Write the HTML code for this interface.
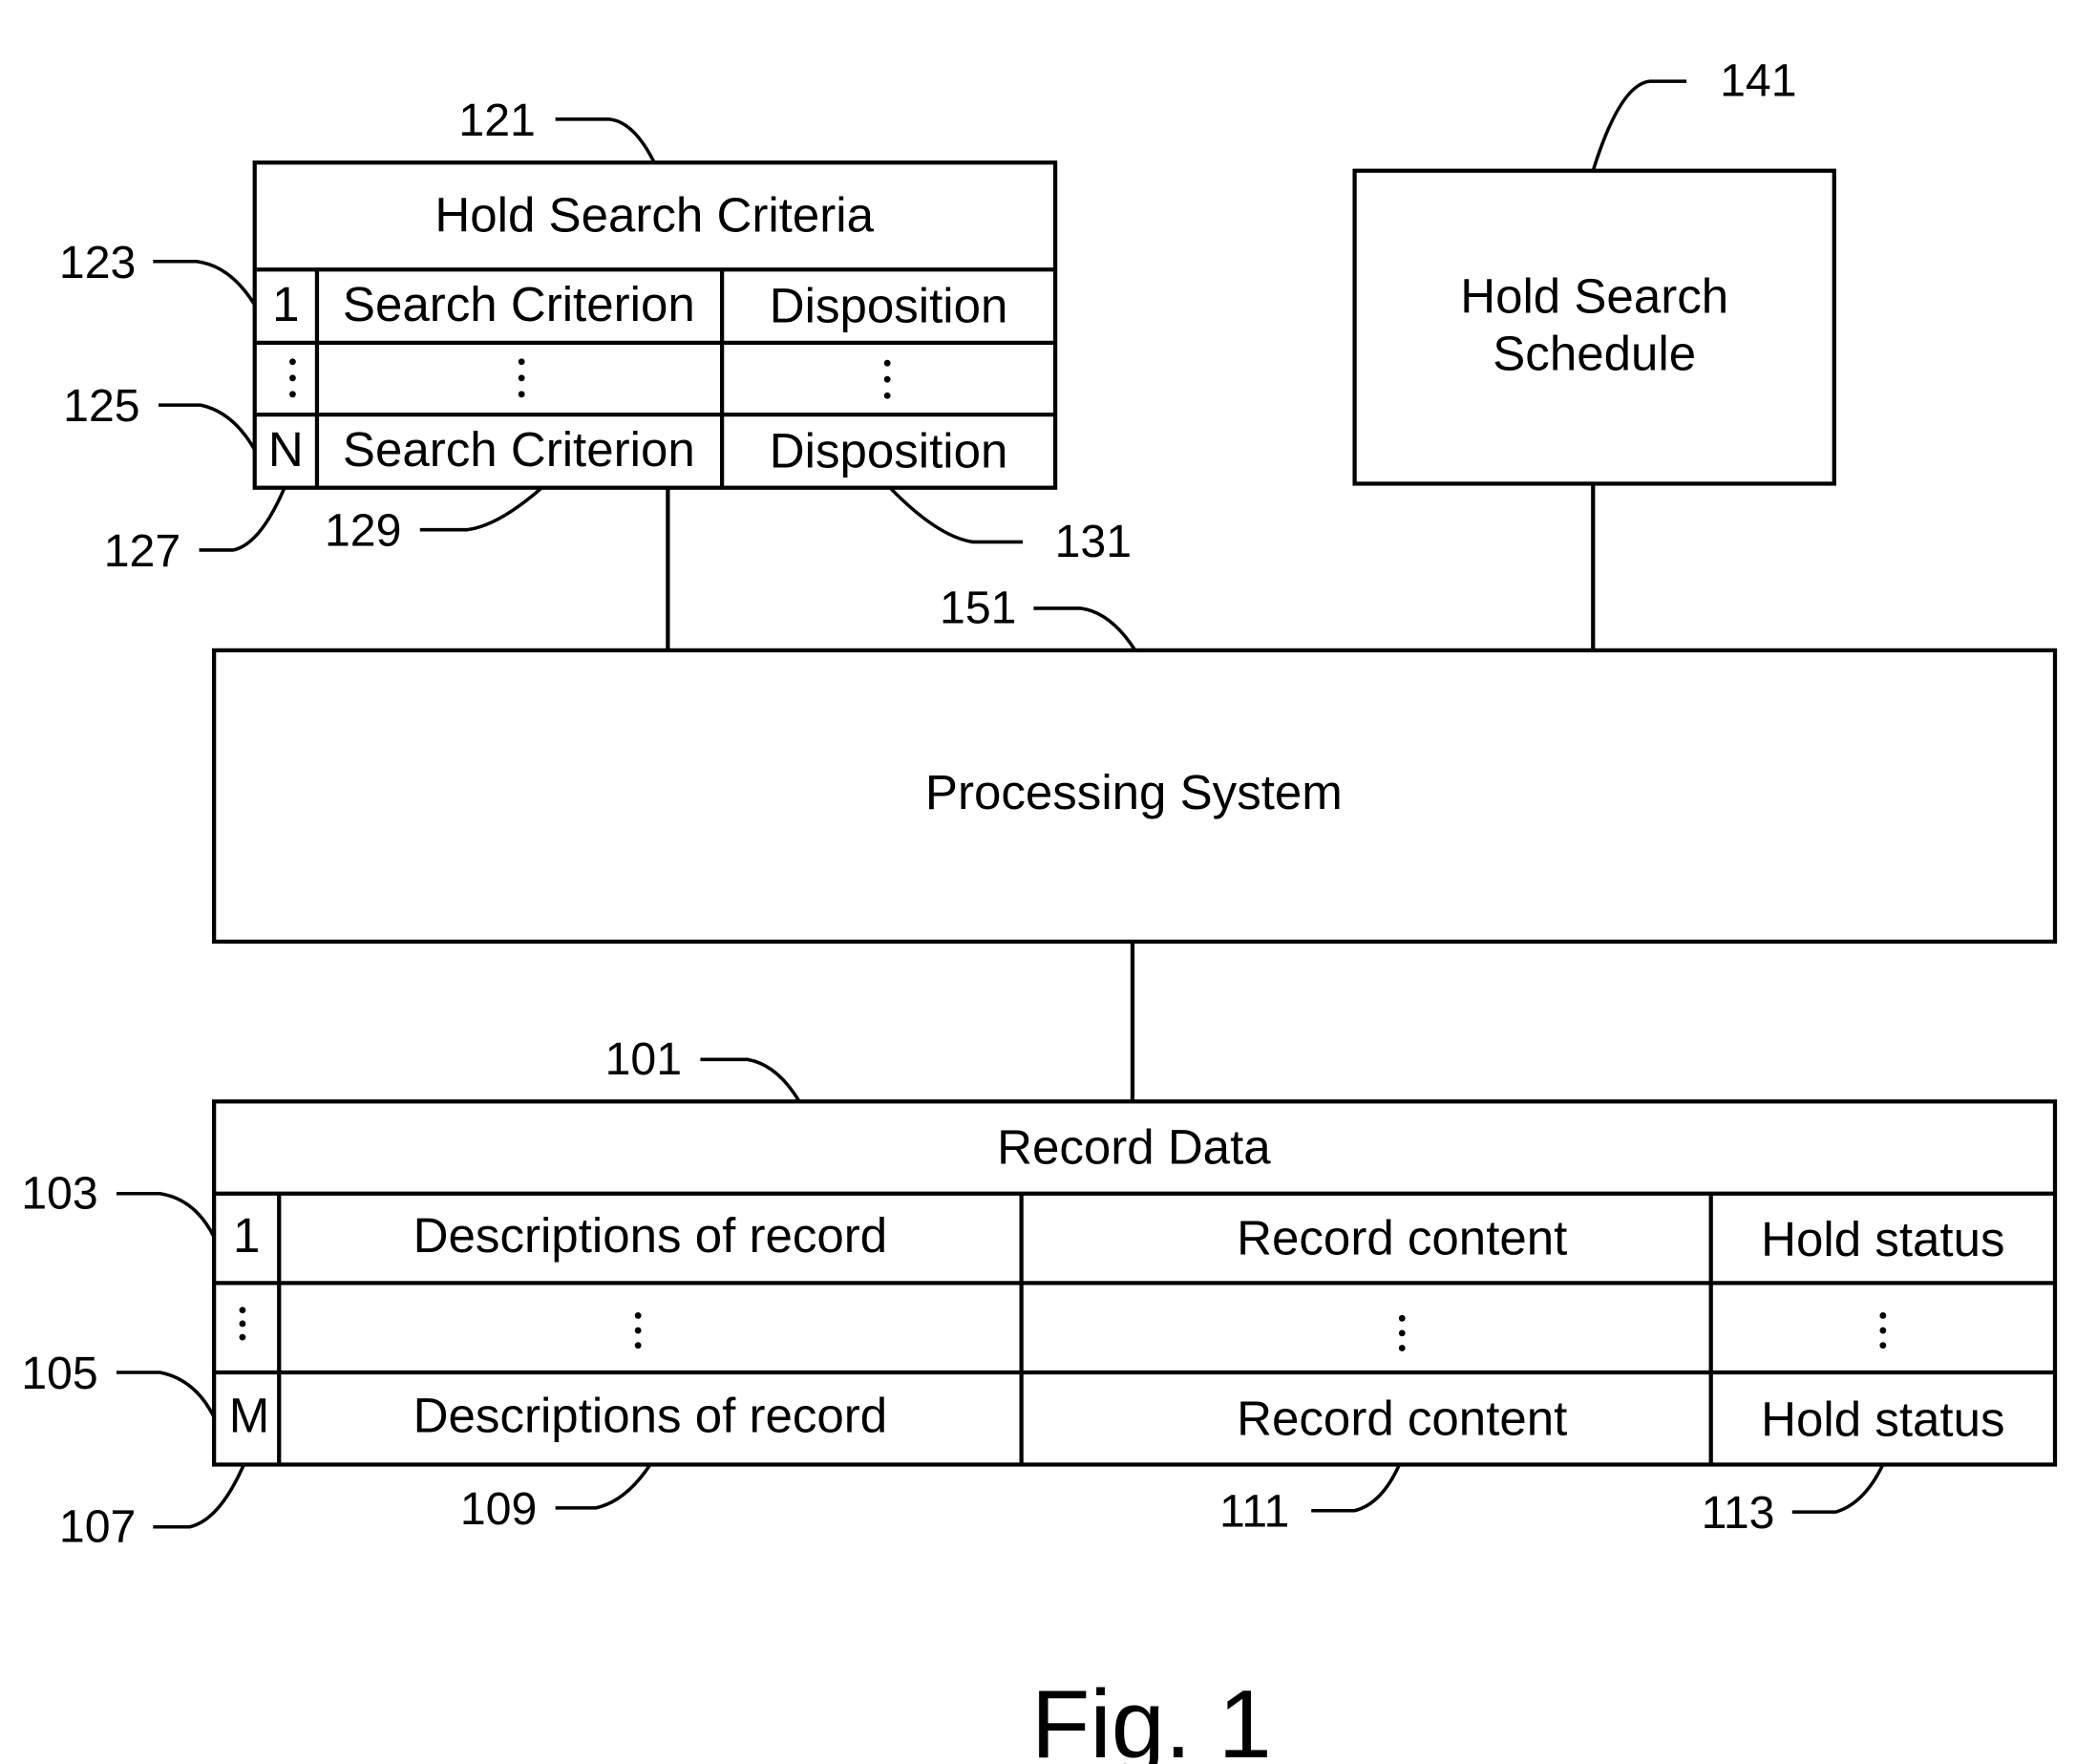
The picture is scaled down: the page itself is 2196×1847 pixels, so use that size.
<!DOCTYPE html>
<html><head><meta charset="utf-8"><style>
html,body{margin:0;padding:0;background:#fff;}
svg{display:block;}
text{font-family:"Liberation Sans",Arial,sans-serif;fill:#000;}
</style></head><body>
<svg width="2196" height="1847" viewBox="0 0 1548 1302" xmlns="http://www.w3.org/2000/svg">
<g fill="none" stroke="#000" stroke-width="3">
<rect x="188" y="120" width="591" height="240"/>
<line x1="188" y1="199" x2="779" y2="199"/>
<line x1="188" y1="253" x2="779" y2="253"/>
<line x1="188" y1="306" x2="779" y2="306"/>
<line x1="234" y1="199" x2="234" y2="360"/>
<line x1="533" y1="199" x2="533" y2="360"/>
<rect x="1000" y="126" width="354" height="231"/>
<rect x="158" y="480" width="1359" height="215"/>
<line x1="493" y1="360" x2="493" y2="480"/>
<line x1="1176" y1="357" x2="1176" y2="480"/>
<line x1="836" y1="695" x2="836" y2="813"/>
<rect x="158" y="813" width="1359" height="268"/>
<line x1="158" y1="881" x2="1517" y2="881"/>
<line x1="158" y1="947" x2="1517" y2="947"/>
<line x1="158" y1="1013" x2="1517" y2="1013"/>
<line x1="206" y1="881" x2="206" y2="1081"/>
<line x1="754" y1="881" x2="754" y2="1081"/>
<line x1="1263" y1="881" x2="1263" y2="1081"/>
</g>
<g fill="none" stroke="#000" stroke-width="2.5">
<path d="M410 88 L450 88 Q468 90 483 120"/>
<path d="M113 193 L145 193 Q170 196 188 225"/>
<path d="M117 299 L148 299 Q172 304 188 332"/>
<path d="M147 406 L172 406 Q192 402 210 360"/>
<path d="M310 391 L345 391 Q368 388 400 360"/>
<path d="M755 400 L718 400 Q692 396 657 360"/>
<path d="M763 449 L798 449 Q820 452 838 480"/>
<path d="M1245 60 L1218 60 Q1196 62 1176 126"/>
<path d="M517 782 L552 782 Q574 786 590 813"/>
<path d="M86 881 L118 881 Q144 885 158 913"/>
<path d="M86 1013 L118 1013 Q144 1018 158 1046"/>
<path d="M113 1127 L140 1127 Q162 1122 180 1081"/>
<path d="M410 1113 L440 1113 Q462 1108 480 1081"/>
<path d="M968 1115 L1000 1115 Q1020 1110 1033 1081"/>
<path d="M1323 1116 L1355 1116 Q1376 1110 1390 1081"/>
</g>
<g font-size="36" text-anchor="middle">
<text x="483" y="171">Hold Search Criteria</text>
<text x="211" y="237">1</text>
<text x="383" y="237">Search Criterion</text>
<text x="656" y="238">Disposition</text>
<text x="211" y="344">N</text>
<text x="383" y="344">Search Criterion</text>
<text x="656" y="345">Disposition</text>
<text x="1177" y="231">Hold Search</text>
<text x="1177" y="273">Schedule</text>
<text x="837" y="597">Processing System</text>
<text x="837" y="859">Record Data</text>
<text x="182" y="924">1</text>
<text x="480" y="924">Descriptions of record</text>
<text x="1035" y="926">Record content</text>
<text x="1390" y="927">Hold status</text>
<text x="184" y="1057">M</text>
<text x="480" y="1057">Descriptions of record</text>
<text x="1035" y="1059">Record content</text>
<text x="1390" y="1060">Hold status</text>
</g>
<g font-size="34" text-anchor="middle">
<text x="367" y="100">121</text>
<text x="72" y="205">123</text>
<text x="75" y="311">125</text>
<text x="105" y="418">127</text>
<text x="268" y="403">129</text>
<text x="807" y="411">131</text>
<text x="722" y="460">151</text>
<text x="1298" y="71">141</text>
<text x="475" y="793">101</text>
<text x="44" y="892">103</text>
<text x="44" y="1025">105</text>
<text x="72" y="1138">107</text>
<text x="368" y="1125">109</text>
<text x="926" y="1127">111</text>
<text x="1283" y="1128">113</text>
</g>
<g fill="#000">
<circle cx="216" cy="267" r="2.4"/><circle cx="216" cy="279" r="2.4"/><circle cx="216" cy="291" r="2.4"/>
<circle cx="385" cy="267" r="2.4"/><circle cx="385" cy="279" r="2.4"/><circle cx="385" cy="291" r="2.4"/>
<circle cx="655" cy="268" r="2.4"/><circle cx="655" cy="280" r="2.4"/><circle cx="655" cy="292" r="2.4"/>
<circle cx="179" cy="967" r="2.4"/><circle cx="179" cy="977" r="2.4"/><circle cx="179" cy="987" r="2.4"/>
<circle cx="471" cy="971" r="2.4"/><circle cx="471" cy="982" r="2.4"/><circle cx="471" cy="993" r="2.4"/>
<circle cx="1035" cy="973" r="2.4"/><circle cx="1035" cy="984" r="2.4"/><circle cx="1035" cy="995" r="2.4"/>
<circle cx="1390" cy="971" r="2.4"/><circle cx="1390" cy="982" r="2.4"/><circle cx="1390" cy="993" r="2.4"/>
</g>
<text x="850" y="1297" font-size="71" text-anchor="middle">Fig. 1</text>
</svg>
</body></html>
